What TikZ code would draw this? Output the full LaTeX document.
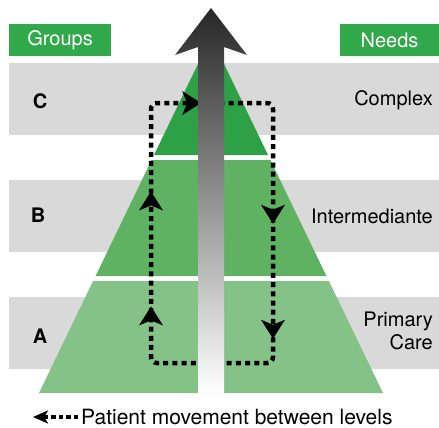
\documentclass[tikz,border=0pt]{standalone}
\usepackage{fontspec}
\setmainfont{TeX Gyre Heros}
\usetikzlibrary{arrows.meta,decorations.markings}

\definecolor{verdeC}{RGB}{46,160,70}
\definecolor{verdeB}{RGB}{94,178,98}
\definecolor{verdeA}{RGB}{133,194,136}
\definecolor{verdeTit}{RGB}{49,168,74}
\definecolor{gris}{RGB}{217,217,217}

%punta de flecha del recorrido
\newcommand{\puntamov}{\fill[sharp corners] (0pt,0pt) -- (-19pt,12pt) -- (-14pt,0pt) -- (-19pt,-12pt) -- cycle;}

\tikzset{
  titulo/.style={fill=verdeTit, text=white, minimum height=32pt, inner sep=0pt, font=\fontsize{20}{24}\selectfont},
  grupo/.style={font=\bfseries\fontsize{20}{22}\selectfont},
  nivel/.style={anchor=east, align=right, inner sep=0pt, font=\fontsize{20}{23}\selectfont},
  movimiento/.style={line width=4.5pt, dash pattern=on 5pt off 4.2pt}
}

\begin{document}
\begin{tikzpicture}[x=1pt,y=-1pt]
\useasboundingbox (0,0) rectangle (439,428);

%bandas grises de cada nivel
\fill [gris] (9,63) rectangle (439,135);
\fill [gris] (9,180) rectangle (439,252);
\fill [gris] (9,297) rectangle (439,369);

%piramide en tres pisos
\fill [verdeC] (211,37) -- (268,155) -- (154,155) -- cycle;
\fill [verdeB] (151.6,160) -- (270.4,160) -- (326.4,276) -- (95.6,276) -- cycle;
\fill [verdeA] (93.1,281) -- (328.9,281) -- (383,393) -- (39,393) -- cycle;

%recorrido de los pacientes
\coordinate (abajo) at (211,363);
\coordinate (abizq) at (151,363);
\coordinate (arizq) at (151,103);
\coordinate (arder) at (273,103);
\coordinate (abder) at (273,363);
\draw [movimiento, rounded corners=6pt, postaction={decorate},
  decoration={markings,
    mark=at position 108pt with {\puntamov},
    mark=at position 223pt with {\puntamov},
    mark=at position 359pt with {\puntamov},
    mark=at position 549pt with {\puntamov},
    mark=at position 664pt with {\puntamov}}]
  (abajo) -- (abizq) -- (arizq) -- (arder) -- (abder) -- cycle;

%flecha central con degradado
\shade [top color=black!85, bottom color=white]
  (198,393) -- (198,47) -- (175,55) -- (211,8) -- (247,55) -- (224,47) -- (224,393) -- cycle;

%titulos
\node [titulo, minimum width=102pt] (grupos) at (60,40) {Groups};
\node [titulo, minimum width=99pt] (necesidades) at (389.5,40) {Needs};

%letras de los grupos
\node [grupo] (grupoC) at (40,101) {C};
\node [grupo] (grupoB) at (38,215) {B};
\node [grupo] (grupoA) at (40,336) {A};

%nombres de los niveles
\node [nivel] (complejo) at (433,100) {Complex};
\node [nivel] (intermedio) at (433,216) {Intermediante};
\node [nivel] (primario) at (433,331) {Primary\\Care};

%leyenda
\coordinate (leyenda) at (33,417);
\node [anchor=west, inner sep=0pt, font=\fontsize{21}{24}\selectfont] (textoley) at (81,417) {Patient movement between levels};
\draw [line width=4pt, dash pattern=on 4.5pt off 3pt, -{Stealth[length=15pt 0 0,width=13pt 0 0,inset=4pt 0]}]
  ([xshift=-3pt]textoley.west) -- (leyenda);
\end{tikzpicture}
\end{document}
